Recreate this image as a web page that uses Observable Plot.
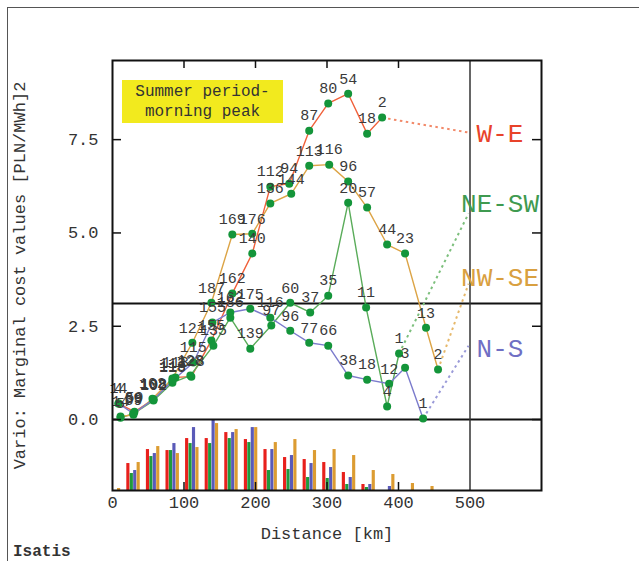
<!DOCTYPE html>
<html><head><meta charset="utf-8">
<script src="https://cdn.jsdelivr.net/npm/d3@7"></script>
<script src="https://cdn.jsdelivr.net/npm/@observablehq/plot@0.6"></script>
<style>
body{margin:0;background:#fff;}
#wrap{position:relative;width:639px;height:561px;overflow:hidden;background:#fff;}
#frame{position:absolute;left:7px;top:7px;width:700px;height:600px;border-top:1.5px solid #555;border-left:1.5px solid #555;}
#chart{position:absolute;left:0;top:0;}
#note{position:absolute;left:122px;top:80px;width:161px;height:43px;background:#f2ea1e;font-family:"Liberation Mono",monospace;font-size:16px;line-height:20px;padding-top:2px;box-sizing:border-box;text-align:center;color:#333;}
#isatis{position:absolute;left:13px;top:543px;font-family:"Liberation Mono",monospace;font-size:16px;font-weight:bold;color:#333;}
</style></head>
<body><div id="wrap"><div id="frame"></div><div id="chart"></div><div id="note">Summer period-<br>morning peak</div><div id="isatis">Isatis</div></div>
<script>
// ---- Experimental variogram points: distance (km), gamma, number of pairs ----
const weKm = [8.4, 30.7, 57.3, 88.0, 110.3, 138.3, 167.6, 195.5, 220.7, 247.2, 275.1, 301.7, 329.6, 356.1, 377.1];
const weGamma = [0.43, 0.21, 0.54, 1.13, 1.15, 2.12, 3.38, 4.45, 6.24, 6.32, 7.74, 8.47, 8.73, 7.66, 8.09];
const wePairs = [14, 59, 108, 113, 128, 155, 162, 140, 112, 94, 87, 80, 54, 18, 2];

const neswKm = [11.2, 29.3, 57.3, 83.8, 108.9, 141.1, 164.8, 192.7, 222.1, 248.6, 276.5, 301.7, 329.6, 354.7, 384.1, 400.8];
const neswGamma = [0.05, 0.16, 0.51, 0.99, 1.18, 1.98, 2.73, 1.90, 2.52, 3.13, 2.87, 3.32, 5.81, 3.00, 0.35, 1.77];
const neswPairs = [5, 69, 102, 118, 128, 135, 186, 139, 97, 60, 37, 35, 20, 11, 4, 1];

const nwseKm = [11.2, 29.3, 55.9, 83.8, 111.7, 138.3, 167.6, 195.5, 220.7, 250.0, 275.1, 303.1, 329.6, 356.1, 384.1, 409.2, 438.5, 455.3];
const nwseGamma = [0.08, 0.13, 0.56, 1.10, 2.06, 3.13, 4.96, 4.98, 5.79, 6.05, 6.80, 6.83, 6.38, 5.68, 4.69, 4.45, 2.46, 1.34];
const nwsePairs = [14, 59, 102, 113, 121, 187, 169, 176, 136, 144, 113, 116, 96, 57, 44, 23, 13, 2];

const nsKm = [8.4, 29.3, 57.3, 83.8, 113.1, 139.7, 164.8, 192.7, 220.7, 248.6, 275.1, 301.7, 329.6, 356.1, 386.9, 409.2, 434.4];
const nsGamma = [0.43, 0.16, 0.54, 1.04, 1.53, 2.60, 2.87, 2.97, 2.73, 2.38, 2.06, 1.98, 1.18, 1.07, 0.96, 1.39, 0.03];
const nsPairs = [4, 59, 108, 113, 115, 155, 162, 175, 116, 96, 77, 66, 38, 18, 12, 3, 1];

// ---- Histogram of pairs per lag (relative units; 71 = top of histogram band) ----
const lagStep = 27.4;
const histWE   = [0, 27, 41, 40, 52, 52, 58, 51, 41, 33, 31, 28, 18, 6, 0, 0, 0];
const histNESW = [2, 17, 34, 40, 47, 47, 52, 48, 20, 21, 13, 12, 6, 3, 0, 0, 0];
const histNWSE = [2, 28, 44, 37, 43, 67, 61, 63, 48, 51, 40, 41, 35, 20, 16, 7, 4];
const histNS   = [0, 20, 37, 47, 63, 71, 58, 63, 41, 35, 27, 23, 13, 6, 4, 0, 0];
const histMax = 71;

const directions = ["W-E", "NE-SW", "NW-SE", "N-S"];
const sill = 3.11;
const xTicks = [0, 100, 200, 300, 400, 500];
const xInnerTicks = [100, 200, 300, 400];
const yTicks = [0, 2.5, 5, 7.5];

const lineColor  = {"W-E": "#f0603a", "NE-SW": "#5aac5a", "NW-SE": "#dca446", "N-S": "#7b7bcc"};
const dotColor   = {"W-E": "#f28a6a", "NE-SW": "#7cbf7c", "NW-SE": "#e6b86a", "N-S": "#9a9ad8"};
const labelColor = {"W-E": "#e8432a", "NE-SW": "#3f9a50", "NW-SE": "#d9a040", "N-S": "#6f6fc4"};
const barColor   = {"W-E": "#e8201c", "NE-SW": "#1f9a3c", "NW-SE": "#dc9c32", "N-S": "#5a5ab8"};

const series = [
  {dir: "W-E", km: weKm, g: weGamma, n: wePairs},
  {dir: "NE-SW", km: neswKm, g: neswGamma, n: neswPairs},
  {dir: "NW-SE", km: nwseKm, g: nwseGamma, n: nwsePairs},
  {dir: "N-S", km: nsKm, g: nsGamma, n: nsPairs}
];
const pts = series.flatMap(s => s.km.map((x, i) => ({dir: s.dir, x, y: s.g[i], n: s.n[i]})));

const hist = [
  {dir: "W-E", v: histWE, off: -1.5},
  {dir: "NE-SW", v: histNESW, off: -0.5},
  {dir: "N-S", v: histNS, off: 0.5},
  {dir: "NW-SE", v: histNWSE, off: 1.5}
];
const xMax = 600, yMin = -1.9, yMax = 9.62;
const bars = hist.flatMap(h => h.v.map((v, k) => ({dir: h.dir, x: lagStep * k + 2 + h.off * 4.8, v})))
  .filter(d => d.v > 0 && d.x > 0);

// legend labels at right, with dotted connectors from the last point
const legend = [
  {dir: "W-E", ly: 7.66, ey: 7.69},
  {dir: "NE-SW", ly: 5.79, ey: 5.52},
  {dir: "NW-SE", ly: 3.80, ey: 3.64},
  {dir: "N-S", ly: 1.90, ey: 1.98}
].map(d => {
  const s = series.find(s => s.dir === d.dir);
  const i = s.km.length - 1;
  return {...d, x0: s.km[i], y0: s.g[i]};
});

const W = 639, H = 561, mL = 112, mR = 98, mT = 60, mB = 71;
const fw = W - mL - mR, fh = H - mT - mB;

const chart = Plot.plot({
  width: W, height: H,
  marginLeft: mL, marginRight: mR, marginTop: mT, marginBottom: mB,
  x: {domain: [0, xMax]},
  y: {domain: [yMin, yMax]},
  style: {fontFamily: "'Liberation Mono', monospace", fontSize: "17px", color: "#333", background: "transparent"},
  marks: [
    Plot.rect(bars, {x1: d => d.x - 2.2, x2: d => d.x + 2.2, y1: yMin, y2: d => yMin + d.v / histMax * (0 - yMin), fill: d => barColor[d.dir]}),
    Plot.ruleY([0], {stroke: "#111", strokeWidth: 2}),
    Plot.ruleY([sill], {stroke: "#111", strokeWidth: 2}),
    Plot.ruleX([500], {stroke: "#333", strokeWidth: 1.5}),
    Plot.line(pts, {x: "x", y: "y", z: "dir", stroke: d => lineColor[d.dir], strokeWidth: 1.4}),
    Plot.link(legend, {x1: "x0", y1: "y0", x2: 498, y2: "ey", stroke: d => dotColor[d.dir], strokeWidth: 2, strokeDasharray: "2.5,3.5"}),
    Plot.dot(pts, {x: "x", y: "y", r: 4, fill: "#14953a", stroke: "none"}),
    Plot.text(pts, {x: "x", y: "y", text: "n", dy: -15, fill: "#3a3a3a", fontSize: 15}),
    Plot.text(legend, {x: 542, y: "ly", text: "dir", fill: d => labelColor[d.dir], fontSize: 26}),
    Plot.axisX(xTicks, {anchor: "bottom", tickSize: 0, tickPadding: 5, fontSize: 17}),
    // inward ticks on the frame
    Plot.tickX(xInnerTicks, {x: d => d, insetBottom: fh - 8, stroke: "#111", strokeWidth: 1.5}),
    Plot.tickX(xInnerTicks, {x: d => d, insetTop: fh - 8, stroke: "#111", strokeWidth: 1.5}),
    Plot.axisY(yTicks, {anchor: "left", tickSize: 0, tickPadding: 14, tickFormat: d3.format(".1f"), fontSize: 17}),
    Plot.tickY(yTicks, {y: d => d, insetRight: fw - 9, stroke: "#111", strokeWidth: 1.5}),
    Plot.tickY(yTicks, {y: d => d, insetLeft: fw - 9, stroke: "#111", strokeWidth: 1.5}),
    Plot.text(["Vario: Marginal cost values [PLN/MWh]2"], {frameAnchor: "left", dx: -93, rotate: -90, textAnchor: "middle", lineAnchor: "middle", fill: "#333", fontSize: 17}),
    Plot.text(["Distance [km]"], {frameAnchor: "bottom", dy: 43, textAnchor: "middle", lineAnchor: "middle", fill: "#333", fontSize: 17}),
    Plot.frame({stroke: "#111", strokeWidth: 2})
  ]
});
document.getElementById("chart").appendChild(chart);
</script></body></html>
